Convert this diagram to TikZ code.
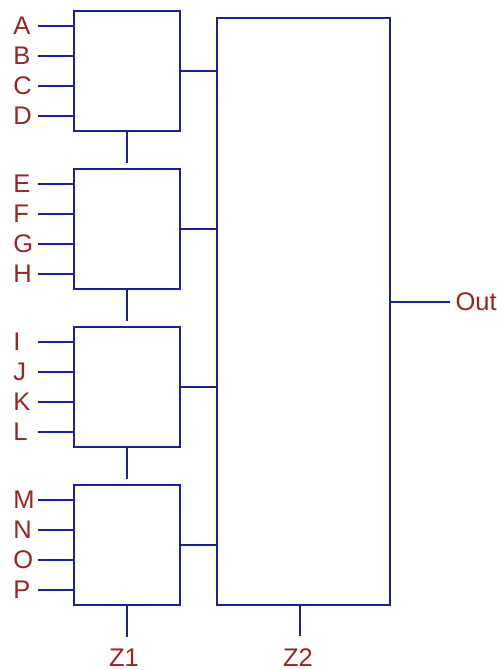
\documentclass[tikz,border=0pt]{standalone}
\usepackage{fontspec}
\setmainfont{Liberation Sans}
\usepackage{tikz}
\usetikzlibrary{positioning, calc}

\definecolor{wireblue}{RGB}{30,30,160}
\definecolor{pinred}{RGB}{155,35,35}

\begin{document}
\begin{tikzpicture}[
  x=0.02cm, y=-0.02cm,
  wire/.style={draw=wireblue, line width=1.2pt},
  modbox/.style={draw=wireblue, line width=1.2pt, minimum width=2.12cm, minimum height=2.4cm, inner sep=0pt},
  pinlabel/.style={text=pinred, font=\fontsize{14.5}{16}\selectfont, inner sep=0pt}
]
\useasboundingbox (0,0) rectangle (497,670);

% Four first-stage modules with their inputs
\foreach \mod/\yy/\a/\b/\c/\d in {1/11/A/B/C/D, 2/169/E/F/G/H, 3/327/I/J/K/L, 4/485/M/N/O/P}{
  \node[modbox] (m\mod) at (127,\yy+60) {};
  \path (m\mod.south) ++(0,31) coordinate (s\mod);
  \draw[wire] (m\mod.south) -- (s\mod);
  \foreach \l [count=\k from 0] in {\a,\b,\c,\d}{
    \coordinate (p\l) at (38,\yy+15+30*\k);
    \node[pinlabel, anchor=west] (l\l) at (13,\yy+15+30*\k) {\l};
    \draw[wire] (p\l) -- (m\mod.west |- p\l);
  }
}

% Second-stage module
\node[modbox, minimum width=3.46cm, minimum height=11.74cm] (z2) at (303.5,311.5) {};

% Module outputs into Z2
\foreach \mod in {1,...,4}
  \draw[wire] (m\mod.east) -- (z2.west |- m\mod.east);

% Output
\coordinate (pout) at (450,302);
\draw[wire] (z2.east |- pout) -- (pout);
\node[pinlabel, anchor=west, inner sep=3pt] (out) at (pout) {Out};

% Bottom pins
\coordinate (pz2) at (300,636);
\draw[wire] (z2.south -| pz2) -- (pz2);
\node[pinlabel] (z1lbl) at (124,658) {Z1};
\node[pinlabel] (z2lbl) at (298,658) {Z2};
\end{tikzpicture}
\end{document}
